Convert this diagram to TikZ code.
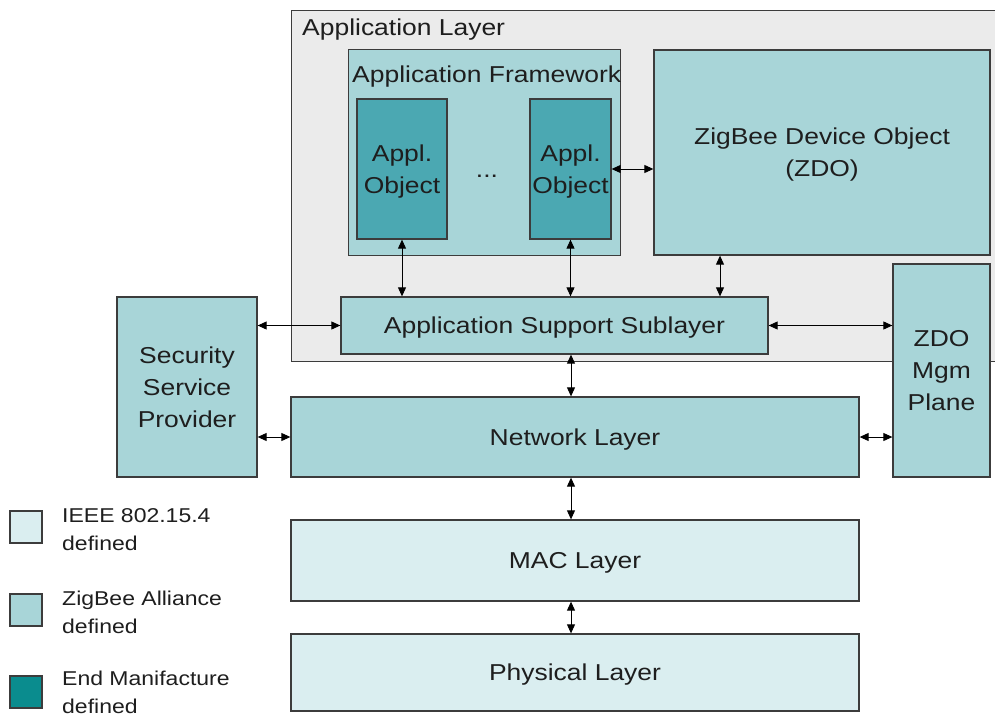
\documentclass[tikz,border=0pt]{standalone}
\usepackage{fontspec}
\setmainfont{Liberation Sans}[FakeStretch=1.15]
\usepackage{tikz}
\usetikzlibrary{arrows.meta,positioning}
\definecolor{ieeecol}{RGB}{218,238,240}
\definecolor{zbcol}{RGB}{168,213,216}
\definecolor{objcol}{RGB}{75,168,178}
\definecolor{mancol}{RGB}{10,140,142}
\definecolor{alcol}{RGB}{235,235,235}
\definecolor{edgecol}{RGB}{60,60,60}
\definecolor{txtcol}{RGB}{30,30,30}

\begin{document}
\begin{tikzpicture}[
  x=1pt, y=-1pt,
  font=\fontsize{23}{32}\selectfont, text=txtcol,
  box/.style={draw=edgecol, line width=1.3pt, align=center, inner sep=0pt, text depth=0pt},
  ieee/.style={box, fill=ieeecol},
  zb/.style={box, fill=zbcol},
  obj/.style={box, fill=objcol},
  man/.style={box, fill=mancol},
  appbg/.style={box, fill=alcol},
  key/.style={box, minimum width=32pt, minimum height=32pt},
  keytxt/.style={anchor=west, align=left, inner sep=0pt, font=\fontsize{20}{28}\selectfont},
  ar/.style={{Triangle[length=9pt,width=8pt]}-{Triangle[length=9pt,width=8pt]}, line width=0.9pt, draw=black}
]
  \useasboundingbox (0,0) rectangle (995,717);
  \clip (0,0) rectangle (995,717);

  % application layer frame
  \node[appbg, anchor=north west, minimum width=730pt, minimum height=351pt] (al) at (291,10) {};
  \node[anchor=north west, inner sep=0pt] (allbl) at (302,19) {Application Layer};

  \node[zb, anchor=north west, minimum width=272pt, minimum height=206pt] (af) at (348,49) {};
  \node[anchor=west, inner sep=0pt] (aflbl) at (352,77) {Application Framework};
  \node[obj, minimum width=90pt, minimum height=140pt] (obj1) at (402,169) {Appl.\\Object};
  \node[obj, minimum width=81pt, minimum height=140pt] (obj2) at (570.5,169) {Appl.\\Object};
  \node (dots) at (487,176) {...};
  \node[zb, minimum width=336pt, minimum height=205pt] (zdo) at (822,152.5) {ZigBee Device Object\\(ZDO)};

  \node[zb, minimum width=427pt, minimum height=57pt] (aps) at (554.5,325.5) {Application Support Sublayer};
  \node[zb, minimum width=140pt, minimum height=180pt] (ssp) at (187,387) {Security\\Service\\Provider};
  \node[zb, minimum width=97pt, minimum height=213pt] (mgm) at (941.5,370.5) {ZDO\\Mgm\\Plane};

  % stack
  \node[zb, minimum width=568pt, minimum height=80pt] (nwk) at (575,437) {Network Layer};
  \node[ieee, minimum width=568pt, minimum height=81pt] (mac) at (575,560.5) {MAC Layer};
  \node[ieee, minimum width=568pt, minimum height=77pt] (phy) at (575,672.5) {Physical Layer};

  % legend
  \node[key, ieee] (k1) at (26,527) {};
  \node[keytxt] (t1) at (62,530) {IEEE 802.15.4\\defined};
  \node[key, zb] (k2) at (26,610) {};
  \node[keytxt] (t2) at (62,612) {ZigBee Alliance\\defined};
  \node[key, man] (k3) at (26,692) {};
  \node[keytxt] (t3) at (62,692) {End Manifacture\\defined};

  \coordinate (stackx) at (571,0);
  \coordinate (zdox) at (720,0);

  \draw[ar] (obj2.east) -- (obj2.east -| zdo.west);
  \draw[ar] (obj1.south) -- (obj1.south |- aps.north);
  \draw[ar] (obj2.south) -- (obj2.south |- aps.north);
  \draw[ar] (zdo.south -| zdox) -- (aps.north -| zdox);
  \draw[ar] (ssp.east |- aps.west) -- (aps.west);
  \draw[ar] (aps.east) -- (aps.east -| mgm.west);
  \draw[ar] (aps.south -| stackx) -- (nwk.north -| stackx);
  \draw[ar] (ssp.east |- nwk.west) -- (nwk.west);
  \draw[ar] (nwk.east) -- (nwk.east -| mgm.west);
  \draw[ar] (nwk.south -| stackx) -- (mac.north -| stackx);
  \draw[ar] (mac.south -| stackx) -- (phy.north -| stackx);
\end{tikzpicture}
\end{document}
